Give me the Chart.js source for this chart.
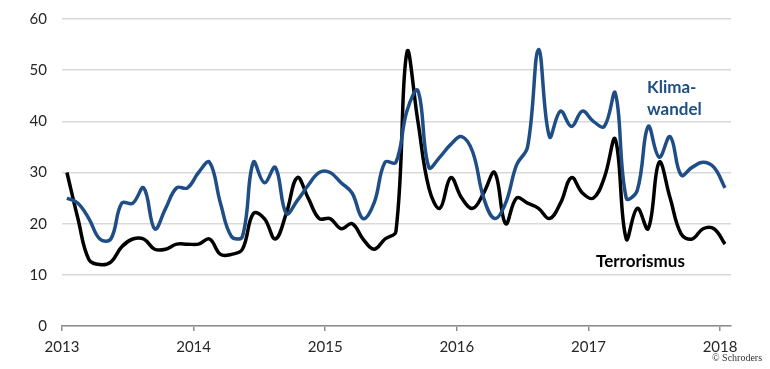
<!DOCTYPE html>
<html>
<head>
<meta charset="utf-8">
<script src="https://cdn.jsdelivr.net/npm/chart.js@4.4.0/dist/chart.umd.min.js"></script>
<style>
  html, body { margin: 0; padding: 0; background: #fff; }
  #wrap { width: 770px; height: 369px; position: relative; }
</style>
</head>
<body>
<div id="wrap"><canvas id="chart"></canvas></div>
<script>
// monthly values, Jan 2013 - Jan 2018
const months = [];
for (let i = 0; i <= 60; i++) months.push(i + 0.45);

const klimawandel = [
  25, 24, 21, 17, 17, 24, 24, 27, 19, 23, 27, 27,
  30, 32, 24, 17.5, 17.5, 32, 28, 31, 22, 24.5, 27.5, 30,
  30, 28, 26, 21, 24, 32, 32, 42, 46, 31, 33, 35.5,
  37, 34, 25, 21, 24, 31.5, 35, 54, 37, 42, 39, 42,
  40, 39, 45.5, 25, 26.5, 39, 33, 37, 29.5, 31, 32, 31,
  27
];
const terrorismus = [
  30, 21, 13, 12, 12.5, 15.5, 17, 17, 15, 15, 16, 16,
  16, 17, 14, 14, 15, 22, 21, 17, 22, 29, 25, 21,
  21, 19, 20, 17, 15, 17, 18.5, 53.5, 40, 27, 23, 29,
  25, 23, 26, 30, 20, 25, 24, 23, 21, 24, 29, 26,
  25, 29, 36.5, 17, 23, 19, 32, 25, 18, 17, 19, 19,
  16
];
const yearTicks = [0, 12, 24, 36, 48, 60];
const yearLabels = ['2013', '2014', '2015', '2016', '2017', '2018'];

const blue = '#1f4e86';
const font = 'Lato, "Open Sans", sans-serif';

const labelsPlugin = {
  id: 'labels',
  afterDraw(chart) {
    const c = chart.ctx;
    c.save();
    c.textBaseline = 'middle';
    c.textAlign = 'left';
    c.font = 'bold 17px ' + font;
    c.fillStyle = blue;
    c.fillText('Klima-', 647, 88);
    c.fillText('wandel', 647, 110);
    c.fillStyle = '#000';
    c.fillText('Terrorismus', 596, 262);
    c.font = '10px "Liberation Serif", serif';
    c.fillStyle = '#333';
    c.fillText('\u00a9 Schroders', 712, 358);
    c.restore();
  }
};

new Chart(document.getElementById('chart'), {
  type: 'line',
  plugins: [labelsPlugin],
  data: {
    datasets: [{
      label: 'Klimawandel',
      data: months.map((m, i) => ({ x: m, y: klimawandel[i] })),
      borderColor: blue,
      borderWidth: 3.5,
      pointRadius: 0,
      tension: 0.4
    }, {
      label: 'Terrorismus',
      data: months.map((m, i) => ({ x: m, y: terrorismus[i] })),
      borderColor: '#000',
      borderWidth: 3.5,
      pointRadius: 0,
      tension: 0.4
    }]
  },
  options: {
    responsive: true,
    maintainAspectRatio: false,
    animation: false,
    layout: { padding: { left: 0, right: 39, top: 19, bottom: 0 } },
    plugins: {
      legend: { display: false },
      tooltip: { enabled: false }
    },
    scales: {
      x: {
        type: 'linear',
        min: 0,
        max: 61,
        afterBuildTicks: (axis) => { axis.ticks = yearTicks.map(v => ({ value: v })); },
        afterFit: (axis) => { axis.height = 43; },
        border: { display: true, color: '#8c8c8c', width: 1.5 },
        grid: { drawOnChartArea: false, drawTicks: true, tickLength: 5, color: '#8c8c8c', lineWidth: 1.5 },
        ticks: {
          autoSkip: false,
          maxRotation: 0,
          padding: 7,
          color: '#262626',
          font: { family: font, size: 15 },
          callback: (v) => yearLabels[yearTicks.indexOf(v)]
        }
      },
      y: {
        min: 0,
        max: 60,
        afterFit: (axis) => {
          axis.width = 62;
          axis.paddingTop = 0;
          axis.paddingBottom = 0;
        },
        border: { display: false },
        grid: { color: '#d9d9d9', lineWidth: 1.5, drawTicks: false },
        ticks: {
          stepSize: 10,
          padding: 15,
          color: '#262626',
          font: { family: font, size: 15 }
        }
      }
    }
  }
});
</script>
</body>
</html>
